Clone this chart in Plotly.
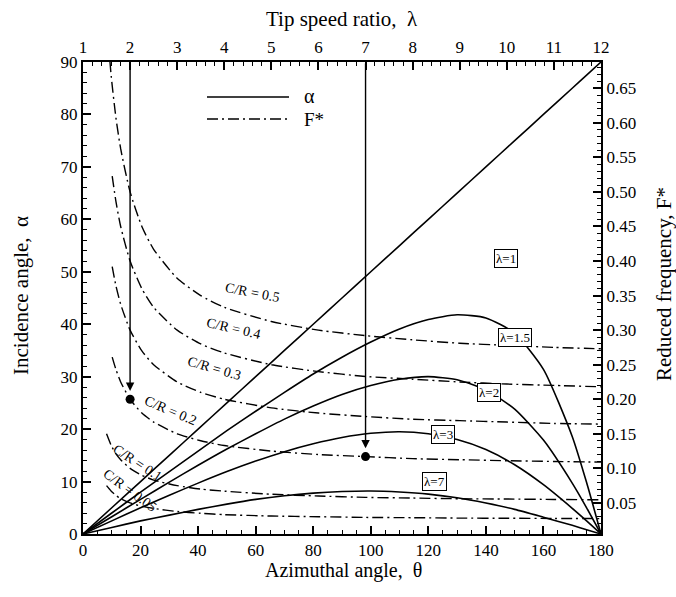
import plotly.graph_objects as go

# ---- data ----
theta = [0, 10, 20, 30, 40, 50, 60, 70, 80, 90, 100, 110, 120, 130, 140, 150, 160, 170, 175, 180]
alpha_l1 = [0, 5, 10, 15, 20, 25, 30, 35, 40, 45, 50, 55, 60, 65, 70, 75, 80, 85, 87.5, 90]
alpha_l15 = [0, 4.0, 8.0, 11.9, 15.8, 19.7, 23.4, 27.0, 30.5, 33.7, 36.6, 39.1, 40.9, 41.8, 41.2, 38.3, 31.4, 18.6, 9.8, 0]
alpha_l2 = [0, 3.3, 6.6, 9.9, 13.1, 16.2, 19.1, 21.9, 24.4, 26.6, 28.3, 29.5, 30.0, 29.4, 27.5, 23.8, 17.9, 9.7, 5.0, 0]
alpha_l3 = [0, 2.5, 5.0, 7.4, 9.7, 11.9, 13.9, 15.7, 17.2, 18.4, 19.2, 19.5, 19.1, 18.0, 16.1, 13.2, 9.4, 4.9, 2.5, 0]
alpha_l7 = [0, 1.25, 2.5, 3.6, 4.7, 5.7, 6.6, 7.3, 7.8, 8.1, 8.2, 8.0, 7.6, 6.9, 5.9, 4.7, 3.2, 1.65, 0.8, 0]

lam = [1.5, 1.6, 1.7, 1.8, 2, 2.25, 2.5, 3, 3.5, 4, 5, 6, 7, 8, 9, 10, 11, 12]
F_cr05 = [0.75, 0.667, 0.607, 0.5625, 0.5, 0.45, 0.417, 0.375, 0.35, 0.333, 0.3125, 0.3, 0.292, 0.286, 0.281, 0.278, 0.275, 0.273]
lam_b = [1.62, 1.7, 1.8, 2, 2.25, 2.5, 3, 3.5, 4, 5, 6, 7, 8, 9, 10, 11, 12]
F_cr04 = [0.523, 0.486, 0.45, 0.4, 0.36, 0.333, 0.3, 0.28, 0.267, 0.25, 0.24, 0.233, 0.229, 0.225, 0.222, 0.22, 0.218]
F_cr03 = [0.392, 0.364, 0.3375, 0.3, 0.27, 0.25, 0.225, 0.21, 0.2, 0.1875, 0.18, 0.175, 0.171, 0.169, 0.167, 0.165, 0.164]
F_cr02 = [0.261, 0.243, 0.225, 0.2, 0.18, 0.167, 0.15, 0.14, 0.133, 0.125, 0.12, 0.117, 0.114, 0.1125, 0.111, 0.11, 0.109]
F_cr01 = [0.15, 0.133, 0.121, 0.1125, 0.1, 0.09, 0.083, 0.075, 0.07, 0.067, 0.0625, 0.06, 0.058, 0.057, 0.056, 0.0556, 0.055, 0.0545]
F_cr005 = [0.075, 0.067, 0.061, 0.056, 0.05, 0.045, 0.042, 0.0375, 0.035, 0.033, 0.031, 0.03, 0.029, 0.0286, 0.028, 0.0278, 0.0275, 0.0273]

marked_lam = [2, 7]
marked_F = [0.2, 0.117]

FONT = "Liberation Serif, Times New Roman, serif"
DASHDOT = "11px,4px,2px,4px"

fig = go.Figure()

for a in [alpha_l1, alpha_l15, alpha_l2, alpha_l3, alpha_l7]:
    fig.add_trace(go.Scatter(x=theta, y=a, mode="lines", line=dict(color="black", width=1.6, shape="spline", smoothing=0.6),
                             xaxis="x", yaxis="y", showlegend=False, hoverinfo="skip"))

for lx, F in [(lam, F_cr05), (lam_b, F_cr04), (lam_b, F_cr03), (lam_b, F_cr02), (lam, F_cr01), (lam, F_cr005)]:
    fig.add_trace(go.Scatter(x=lx, y=F, mode="lines", line=dict(color="black", width=1.4, dash=DASHDOT, shape="spline", smoothing=0.6),
                             xaxis="x2", yaxis="y2", showlegend=False, hoverinfo="skip"))

fig.add_trace(go.Scatter(x=marked_lam, y=marked_F, mode="markers", marker=dict(color="black", size=9),
                         xaxis="x2", yaxis="y2", showlegend=False, hoverinfo="skip"))

F_TOP = 0.688
F_BOT = 0.005
for lx, fy in zip(marked_lam, marked_F):
    fig.add_annotation(x=lx, y=fy + 0.012, xref="x2", yref="y2", ax=lx, ay=F_TOP, axref="x2", ayref="y2",
                       showarrow=True, arrowhead=2, arrowsize=1.2, arrowwidth=1.4, arrowcolor="black", text="")

TICKFONT = dict(family=FONT, size=17, color="black")
axis_common = dict(showline=True, linecolor="black", linewidth=2, ticks="inside", tickcolor="black",
                   tickwidth=2, ticklen=8, showgrid=False, zeroline=False, tickfont=TICKFONT)

fig.update_layout(
    width=676, height=597,
    margin=dict(l=83, r=75, t=62, b=63),
    plot_bgcolor="white", paper_bgcolor="white",
    xaxis=dict(range=[0, 180], dtick=20, tick0=0,
               minor=dict(dtick=5, ticks="inside", ticklen=4, tickcolor="black", tickwidth=1), **axis_common),
    xaxis2=dict(range=[1, 12], dtick=1, tick0=1, overlaying="x", side="top", anchor="y",
                minor=dict(dtick=0.2, ticks="inside", ticklen=4, tickcolor="black", tickwidth=1), **axis_common),
    yaxis=dict(range=[0, 90], dtick=10, tick0=0,
               minor=dict(dtick=2, ticks="inside", ticklen=4, tickcolor="black", tickwidth=1), **axis_common),
    yaxis2=dict(range=[F_BOT, F_TOP], tickvals=[0.05, 0.10, 0.15, 0.20, 0.25, 0.30, 0.35, 0.40, 0.45, 0.50, 0.55, 0.60, 0.65],
                tickformat=".2f", overlaying="y", side="right", anchor="x",
                minor=dict(dtick=0.01, ticks="inside", ticklen=4, tickcolor="black", tickwidth=1), **axis_common),
)

L, R, T, B = 83, 601, 62, 534
def px(xp): return (xp - L) / (R - L)
def py(yp): return (B - yp) / (B - T)

def ann(text, x, y, size=21, angle=0, xanchor="center"):
    fig.add_annotation(text=text, x=x, y=y, xref="paper", yref="paper", showarrow=False, textangle=angle,
                       xanchor=xanchor, yanchor="middle",
                       font=dict(family=FONT, size=size, color="black"))

ann("Tip speed ratio,  λ", px(342), py(19))
ann("Azimuthal angle,  θ", px(343), py(570), size=20)
ann("Incidence angle,  α", px(21), py(296), angle=-90)
ann("Reduced frequency, F*", px(664), py(284), angle=-90)

# legend
fig.add_shape(type="line", xref="paper", yref="paper", x0=px(207), x1=px(289), y0=py(97), y1=py(97),
              line=dict(color="black", width=1.6))
fig.add_shape(type="line", xref="paper", yref="paper", x0=px(207), x1=px(289), y0=py(119), y1=py(119),
              line=dict(color="black", width=1.4, dash=DASHDOT))
ann("α", px(302), py(96), size=20, xanchor="left")
ann("F*", px(302), py(119), size=19, xanchor="left")

# lambda labels (boxed)
for t, x, y in [("λ=1", 147, 52.5), ("λ=1.5", 150, 37.5), ("λ=2", 141, 27), ("λ=3", 125, 19), ("λ=7", 122, 10)]:
    fig.add_annotation(text=t, x=x, y=y, xref="x", yref="y", showarrow=False, bordercolor="black", borderwidth=1,
                       borderpad=1, bgcolor="white", font=dict(family=FONT, size=13, color="black"))

# C/R labels
for t, x, y, a in [("C/R = 0.5", 4.6, 0.355, 11), ("C/R = 0.4", 4.2, 0.302, 13), ("C/R = 0.3", 3.8, 0.245, 16),
                   ("C/R = 0.2", 2.85, 0.183, 23), ("C/R = 0.1", 2.15, 0.108, 33), ("C/R = 0.05", 2.0, 0.068, 36)]:
    fig.add_annotation(text=t, x=x, y=y, xref="x2", yref="y2", showarrow=False, textangle=a,
                       font=dict(family=FONT, size=14, color="black"))

fig.write_html("out.html")
